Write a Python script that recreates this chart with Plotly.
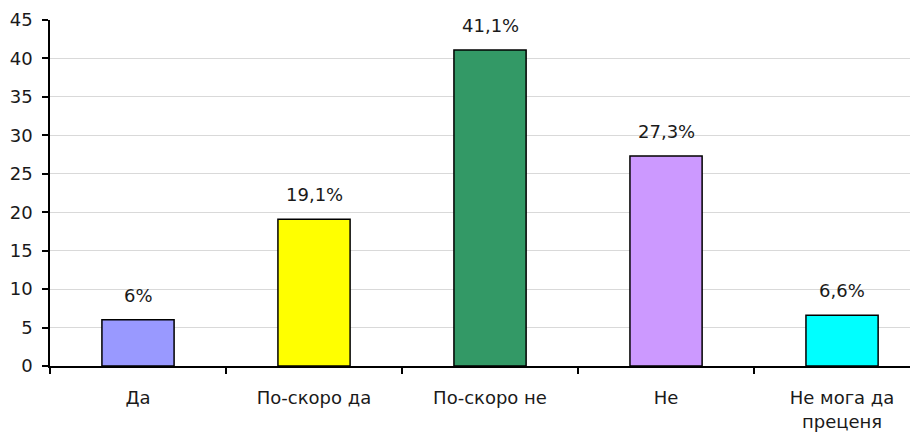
import plotly.graph_objects as go

categories = ["Да", "По-скоро да", "По-скоро не", "Не", "Не мога да<br>преценя"]
values = [6.0, 19.1, 41.1, 27.3, 6.6]
value_labels = ["6%", "19,1%", "41,1%", "27,3%", "6,6%"]
colors = ["#9999FF", "#FFFF00", "#339966", "#CC99FF", "#00FFFF"]
y_ticks = [0, 5, 10, 15, 20, 25, 30, 35, 40, 45]

FONT = "DejaVu Sans"
FS = 18
TXT = "#1a1a1a"
fig = go.Figure()
fig.add_trace(go.Bar(
    x=categories, y=values, width=0.41,
    marker=dict(color=colors, line=dict(color="black", width=1.5)),
    hoverinfo="skip",
))
for c, v, t in zip(categories, values, value_labels):
    fig.add_annotation(x=c, y=v, text=t, showarrow=False, xref="x", yref="y",
                       yanchor="bottom", yshift=12,
                       font=dict(family=FONT, size=FS, color=TXT))

# the page body adds an 8px offset; margins compensate for it
fig.update_layout(
    width=918, height=432,
    margin=dict(l=42, r=0, t=12, b=74),
    paper_bgcolor="white", plot_bgcolor="white",
    showlegend=False,
    font=dict(family=FONT, size=FS, color=TXT),
)
fig.update_xaxes(
    type="category", range=[-0.5, 4.477], automargin=False,
    showline=True, linecolor="black", linewidth=1.5,
    ticks="outside", ticklen=6, tickcolor="black", tickwidth=1.5,
    tickson="boundaries", showgrid=False, ticklabelstandoff=15,
)
fig.update_yaxes(
    range=[0, 45], tickvals=y_ticks, automargin=False,
    showline=True, linecolor="black", linewidth=1.5,
    ticks="outside", ticklen=6, tickcolor="black", tickwidth=1.5,
    showgrid=True, gridcolor="#d9d9d9", gridwidth=1,
    zeroline=False, ticklabelstandoff=6,
)
fig.write_html("out.html")
